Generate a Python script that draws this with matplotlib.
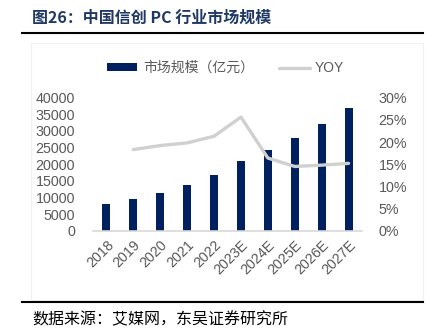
import numpy as np
import matplotlib as mpl
mpl.use("Agg")
import matplotlib.pyplot as plt
from matplotlib.patches import Rectangle

mpl.rcParams["axes.unicode_minus"] = False
mpl.rcParams["font.family"] = ["Liberation Sans", "Noto Sans CJK SC", "DejaVu Sans"]

years = ["2018", "2019", "2020", "2021", "2022",
         "2023E", "2024E", "2025E", "2026E", "2027E"]
market = [8000, 9700, 11500, 13700, 16700, 21000, 24400, 28000, 32200, 37000]
yoy = [np.nan, 18.3, 19.2, 19.8, 21.3, 25.6, 16.4, 14.5, 14.8, 15.2]

left_ticks = np.arange(0, 40001, 5000)
right_ticks = np.arange(0, 31, 5)

navy = "#002060"
line_grey = "#D0D0D0"
txt_grey = "#595959"
title_blue = "#1F3864"

fig = plt.figure(figsize=(4.29, 3.36), dpi=100)
ax = fig.add_axes([0.2168, 0.3125, 0.627, 0.3973])
x = np.arange(len(years))

ax.bar(x, market, width=0.3, color=navy, zorder=2, label="市场规模（亿元）")
ax.set_xlim(-0.5, len(years) - 0.5)
ax.set_ylim(0, 40000)
ax.set_yticks(left_ticks)
ax.set_yticklabels([str(v) for v in left_ticks], fontsize=10.3, color=txt_grey)
ax.set_xticks(x)
ax.set_xticklabels(years, rotation=45, ha="right", rotation_mode="anchor",
                   fontsize=10.3, color=txt_grey)
ax.tick_params(axis="both", length=0, pad=5)
ax.tick_params(axis="y", pad=13)
for s in ["top", "right", "left"]:
    ax.spines[s].set_visible(False)
ax.spines["bottom"].set_color("#D9D9D9")
ax.spines["bottom"].set_linewidth(1.2)

ax2 = ax.twinx()
ax2.plot(x, yoy, color=line_grey, linewidth=2.4, solid_capstyle="round",
         zorder=3, label="YOY")
ax2.set_ylim(0, 30)
ax2.set_yticks(right_ticks)
ax2.set_yticklabels([f"{v}%" for v in right_ticks], fontsize=10.3, color=txt_grey)
ax2.tick_params(axis="y", length=0, pad=12)
for s in ["top", "right", "left", "bottom"]:
    ax2.spines[s].set_visible(False)

h1, l1 = ax.get_legend_handles_labels()
h2, l2 = ax2.get_legend_handles_labels()
leg = fig.legend(h1 + h2, l1 + l2, loc="center", bbox_to_anchor=(0.526, 0.798),
                 ncol=2, frameon=False, fontsize=10, handlelength=2.2,
                 handleheight=0.45, handletextpad=0.4, columnspacing=1.8)
for t in leg.get_texts():
    t.set_color(txt_grey)

# faint frame round the chart area
fig.add_artist(Rectangle((31 / 429, 1 - 300 / 336), 392 / 429, 257 / 336,
                         transform=fig.transFigure, fill=False,
                         edgecolor="#F0F0F0", linewidth=0.8))

fig.text(32 / 429, 1 - 18 / 336, "图26：中国信创 PC 行业市场规模", ha="left", va="center",
         fontsize=11.5, fontweight="bold", color=title_blue,
         family=["Noto Sans CJK SC", "DejaVu Sans"])
fig.add_artist(plt.Line2D([22 / 429, 423 / 429], [1 - 33 / 336, 1 - 33 / 336],
                          transform=fig.transFigure, color="black", linewidth=1.5))
fig.add_artist(plt.Line2D([22 / 429, 423 / 429], [1 - 302 / 336, 1 - 302 / 336],
                          transform=fig.transFigure, color="black", linewidth=1.5))
fig.text(32 / 429, 1 - 320 / 336, "数据来源：艾媒网，东吴证券研究所", ha="left", va="center",
         fontsize=11.5, color="black", family=["Noto Sans CJK SC", "DejaVu Sans"])

fig.savefig("out.png", dpi=100)
